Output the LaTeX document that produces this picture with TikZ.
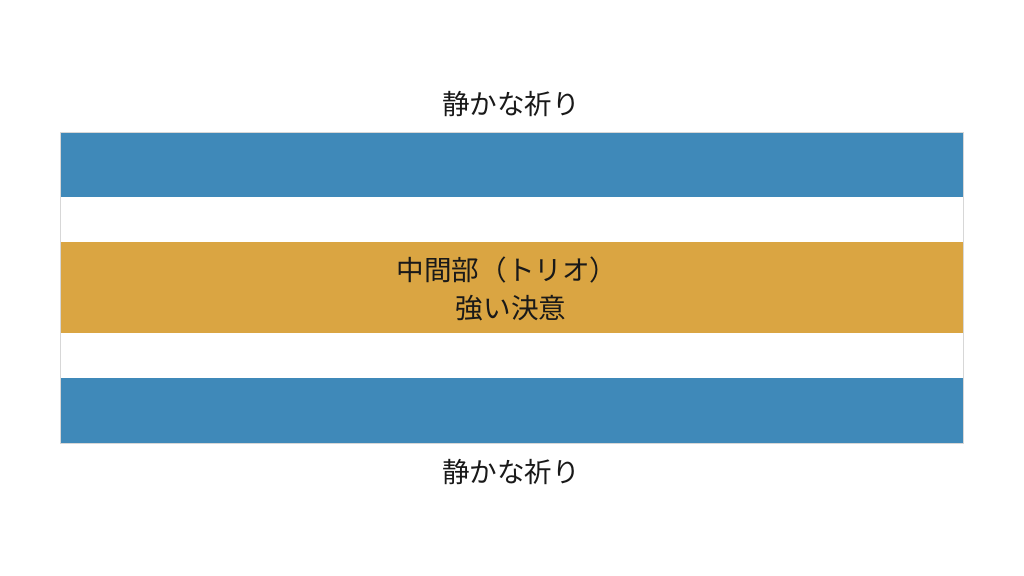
\documentclass[tikz,border=0pt]{standalone}
\usepackage{fontspec}
\newfontfamily\cjk{Noto Sans CJK JP}
\definecolor{prayblue}{RGB}{63,137,185}
\definecolor{triogold}{RGB}{218,165,66}
\definecolor{framegray}{RGB}{215,215,215}
\tikzset{
  band/.style={draw=none},
  label/.style={font=\cjk\fontsize{13.8}{16}\selectfont, text=black!90, inner sep=0pt},
}
\begin{document}
\begin{tikzpicture}[x=0.5pt, y=-0.5pt]
\useasboundingbox[fill=white] (0,0) rectangle (1024,576);
% bands
\fill[prayblue] (60,132) rectangle (963,197);
\fill[triogold] (60,242) rectangle (963,333);
\fill[prayblue] (60,378) rectangle (963,443);
\draw[framegray, line width=0.4pt] (60,132) rectangle (963,443);
% texts
\node[label] (top) at (511,104) {静かな祈り};
\node[label] (trio) at (507,270) {中間部（トリオ）};
\node[label] (will) at (511,308) {強い決意};
\node[label] (bottom) at (511,472) {静かな祈り};
\end{tikzpicture}
\end{document}
